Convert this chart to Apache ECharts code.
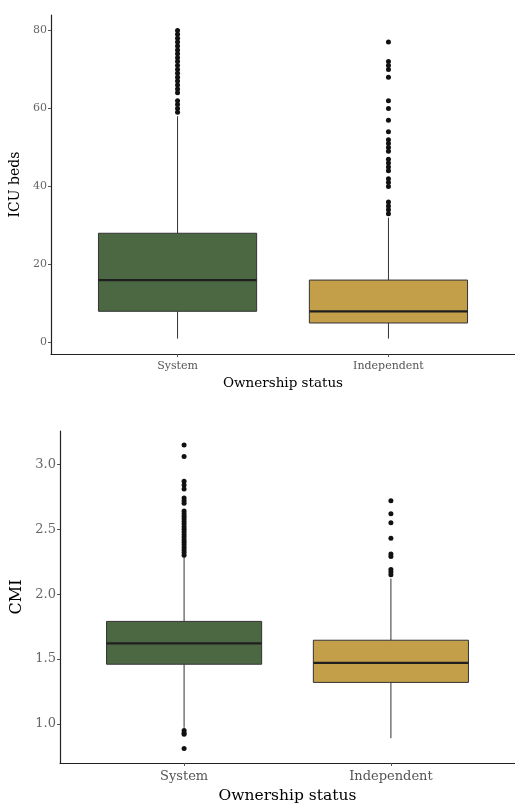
<!DOCTYPE html>
<html>
<head>
<meta charset="utf-8">
<script src="https://cdn.jsdelivr.net/npm/echarts@6/dist/echarts.min.js"></script>
<style>html,body{margin:0;padding:0;background:#fff;}#c{width:515px;height:808px;}</style>
</head>
<body>
<div id="c"></div>
<script>
// ---- data ----
const categories = ['System', 'Independent'];
// [min whisker, Q1, median, Q3, max whisker]
const icuBox = [[1, 8, 16, 28, 58], [1, 5, 8, 16, 32]];
const icuOutSystem = [59, 60, 61, 62, 64, 65, 66, 67, 68, 69, 70, 71, 72, 73, 74, 75, 76, 77, 78, 79, 80];
const icuOutIndependent = [77, 72, 71, 70, 68, 62, 60, 57, 54, 52, 51, 50, 49, 47, 46, 45, 44, 42, 41, 40, 36, 35, 34, 33];
const cmiBox = [[0.97, 1.46, 1.62, 1.79, 2.29], [0.89, 1.32, 1.47, 1.645, 2.12]];
const cmiOutSystem = [3.15, 3.06, 2.87, 2.84, 2.81, 2.74, 2.72, 2.70, 2.64, 2.62, 2.60, 2.58, 2.56, 2.54, 2.52, 2.50, 2.48, 2.46, 2.44, 2.42, 2.40, 2.38, 2.36, 2.34, 2.32, 2.30, 0.95, 0.93, 0.92, 0.81];
const cmiOutIndependent = [2.72, 2.62, 2.55, 2.43, 2.31, 2.29, 2.19, 2.17, 2.15];
const icuTicks = [0, 20, 40, 60, 80];
const cmiTicks = [1.0, 1.5, 2.0, 2.5, 3.0];

// ---- styles ----
const fills = ['#4c6843', '#c49f4a'];
const FONT = 'DejaVu Serif';

function boxData(box) {
  return box.map((b, i) => [i + 1].concat(b));
}
function outData(sys, ind) {
  return sys.map(v => [1, v]).concat(ind.map(v => [2, v]));
}

function renderBox(params, api) {
  const x = api.value(0);
  const mn = api.value(1), q1 = api.value(2), med = api.value(3), q3 = api.value(4), mx = api.value(5);
  const halfW = 0.375;
  const pMin = api.coord([x, mn]);
  const pQ1 = api.coord([x, q1]);
  const pQ3 = api.coord([x, q3]);
  const pMax = api.coord([x, mx]);
  const pL = api.coord([x - halfW, q3]);
  const pR = api.coord([x + halfW, q1]);
  const mL = api.coord([x - halfW, med]);
  const mR = api.coord([x + halfW, med]);
  const lineStyle = { stroke: '#333333', lineWidth: 1 };
  return {
    type: 'group',
    children: [
      { type: 'line', shape: { x1: pMin[0], y1: pMin[1], x2: pQ1[0], y2: pQ1[1] }, style: lineStyle },
      { type: 'line', shape: { x1: pQ3[0], y1: pQ3[1], x2: pMax[0], y2: pMax[1] }, style: lineStyle },
      { type: 'rect', shape: { x: pL[0], y: pL[1], width: pR[0] - pL[0], height: pR[1] - pL[1] },
        style: { fill: fills[params.dataIndex], stroke: '#333333', lineWidth: 1 } },
      { type: 'line', shape: { x1: mL[0], y1: mL[1], x2: mR[0], y2: mR[1] }, style: { stroke: '#1f1f1f', lineWidth: 2.2 } }
    ]
  };
}

function xAxisCfg(gridIndex, labelSize, nameSize, nameGap) {
  return {
    type: 'value', gridIndex: gridIndex, min: 0.4, max: 2.6,
    name: 'Ownership status', nameLocation: 'middle', nameGap: nameGap,
    nameTextStyle: { fontFamily: FONT, fontSize: nameSize, color: '#000' },
    axisLine: { show: true, onZero: false, lineStyle: { color: '#222', width: 1.2 } },
    axisTick: { show: true, customValues: [1, 2], length: 3, lineStyle: { color: '#555' } },
    axisLabel: { customValues: [1, 2], formatter: v => categories[Math.round(v) - 1] || '',
      fontFamily: FONT, fontSize: labelSize, color: '#555', margin: 7 },
    splitLine: { show: false }
  };
}
function yAxisCfg(gridIndex, min, max, ticks, name, labelSize, nameSize, nameGap, fmt) {
  return {
    type: 'value', gridIndex: gridIndex, min: min, max: max,
    name: name, nameLocation: 'middle', nameGap: nameGap,
    nameTextStyle: { fontFamily: FONT, fontSize: nameSize, color: '#000' },
    axisLine: { show: true, onZero: false, lineStyle: { color: '#222', width: 1.2 } },
    axisTick: { show: true, customValues: ticks, length: 3, lineStyle: { color: '#555' } },
    axisLabel: { customValues: ticks, formatter: fmt, fontFamily: FONT, fontSize: labelSize, color: '#666', margin: 4 },
    splitLine: { show: false }
  };
}

const chart = echarts.init(document.getElementById('c'), null, { renderer: 'canvas' });
chart.setOption({
  backgroundColor: '#fff',
  animation: false,
  grid: [
    { left: 51, top: 15, width: 467, height: 339 },
    { left: 60, top: 431, width: 458, height: 332 }
  ],
  xAxis: [xAxisCfg(0, 11, 13.5, 22), xAxisCfg(1, 13, 15.5, 25)],
  yAxis: [
    yAxisCfg(0, -2.95, 83.95, icuTicks, 'ICU beds', 11, 14, 26, v => String(v)),
    yAxisCfg(1, 0.699, 3.257, cmiTicks, 'CMI', 13, 16, 31, v => v.toFixed(1))
  ],
  series: [
    { type: 'custom', xAxisIndex: 0, yAxisIndex: 0, renderItem: renderBox, data: boxData(icuBox), encode: { x: 0, y: [1, 2, 3, 4, 5] } },
    { type: 'scatter', xAxisIndex: 0, yAxisIndex: 0, data: outData(icuOutSystem, icuOutIndependent), symbolSize: 5, itemStyle: { color: '#111', opacity: 1 } },
    { type: 'custom', xAxisIndex: 1, yAxisIndex: 1, renderItem: renderBox, data: boxData(cmiBox), encode: { x: 0, y: [1, 2, 3, 4, 5] } },
    { type: 'scatter', xAxisIndex: 1, yAxisIndex: 1, data: outData(cmiOutSystem, cmiOutIndependent), symbolSize: 5, itemStyle: { color: '#111', opacity: 1 } }
  ]
});
</script>
</body>
</html>
